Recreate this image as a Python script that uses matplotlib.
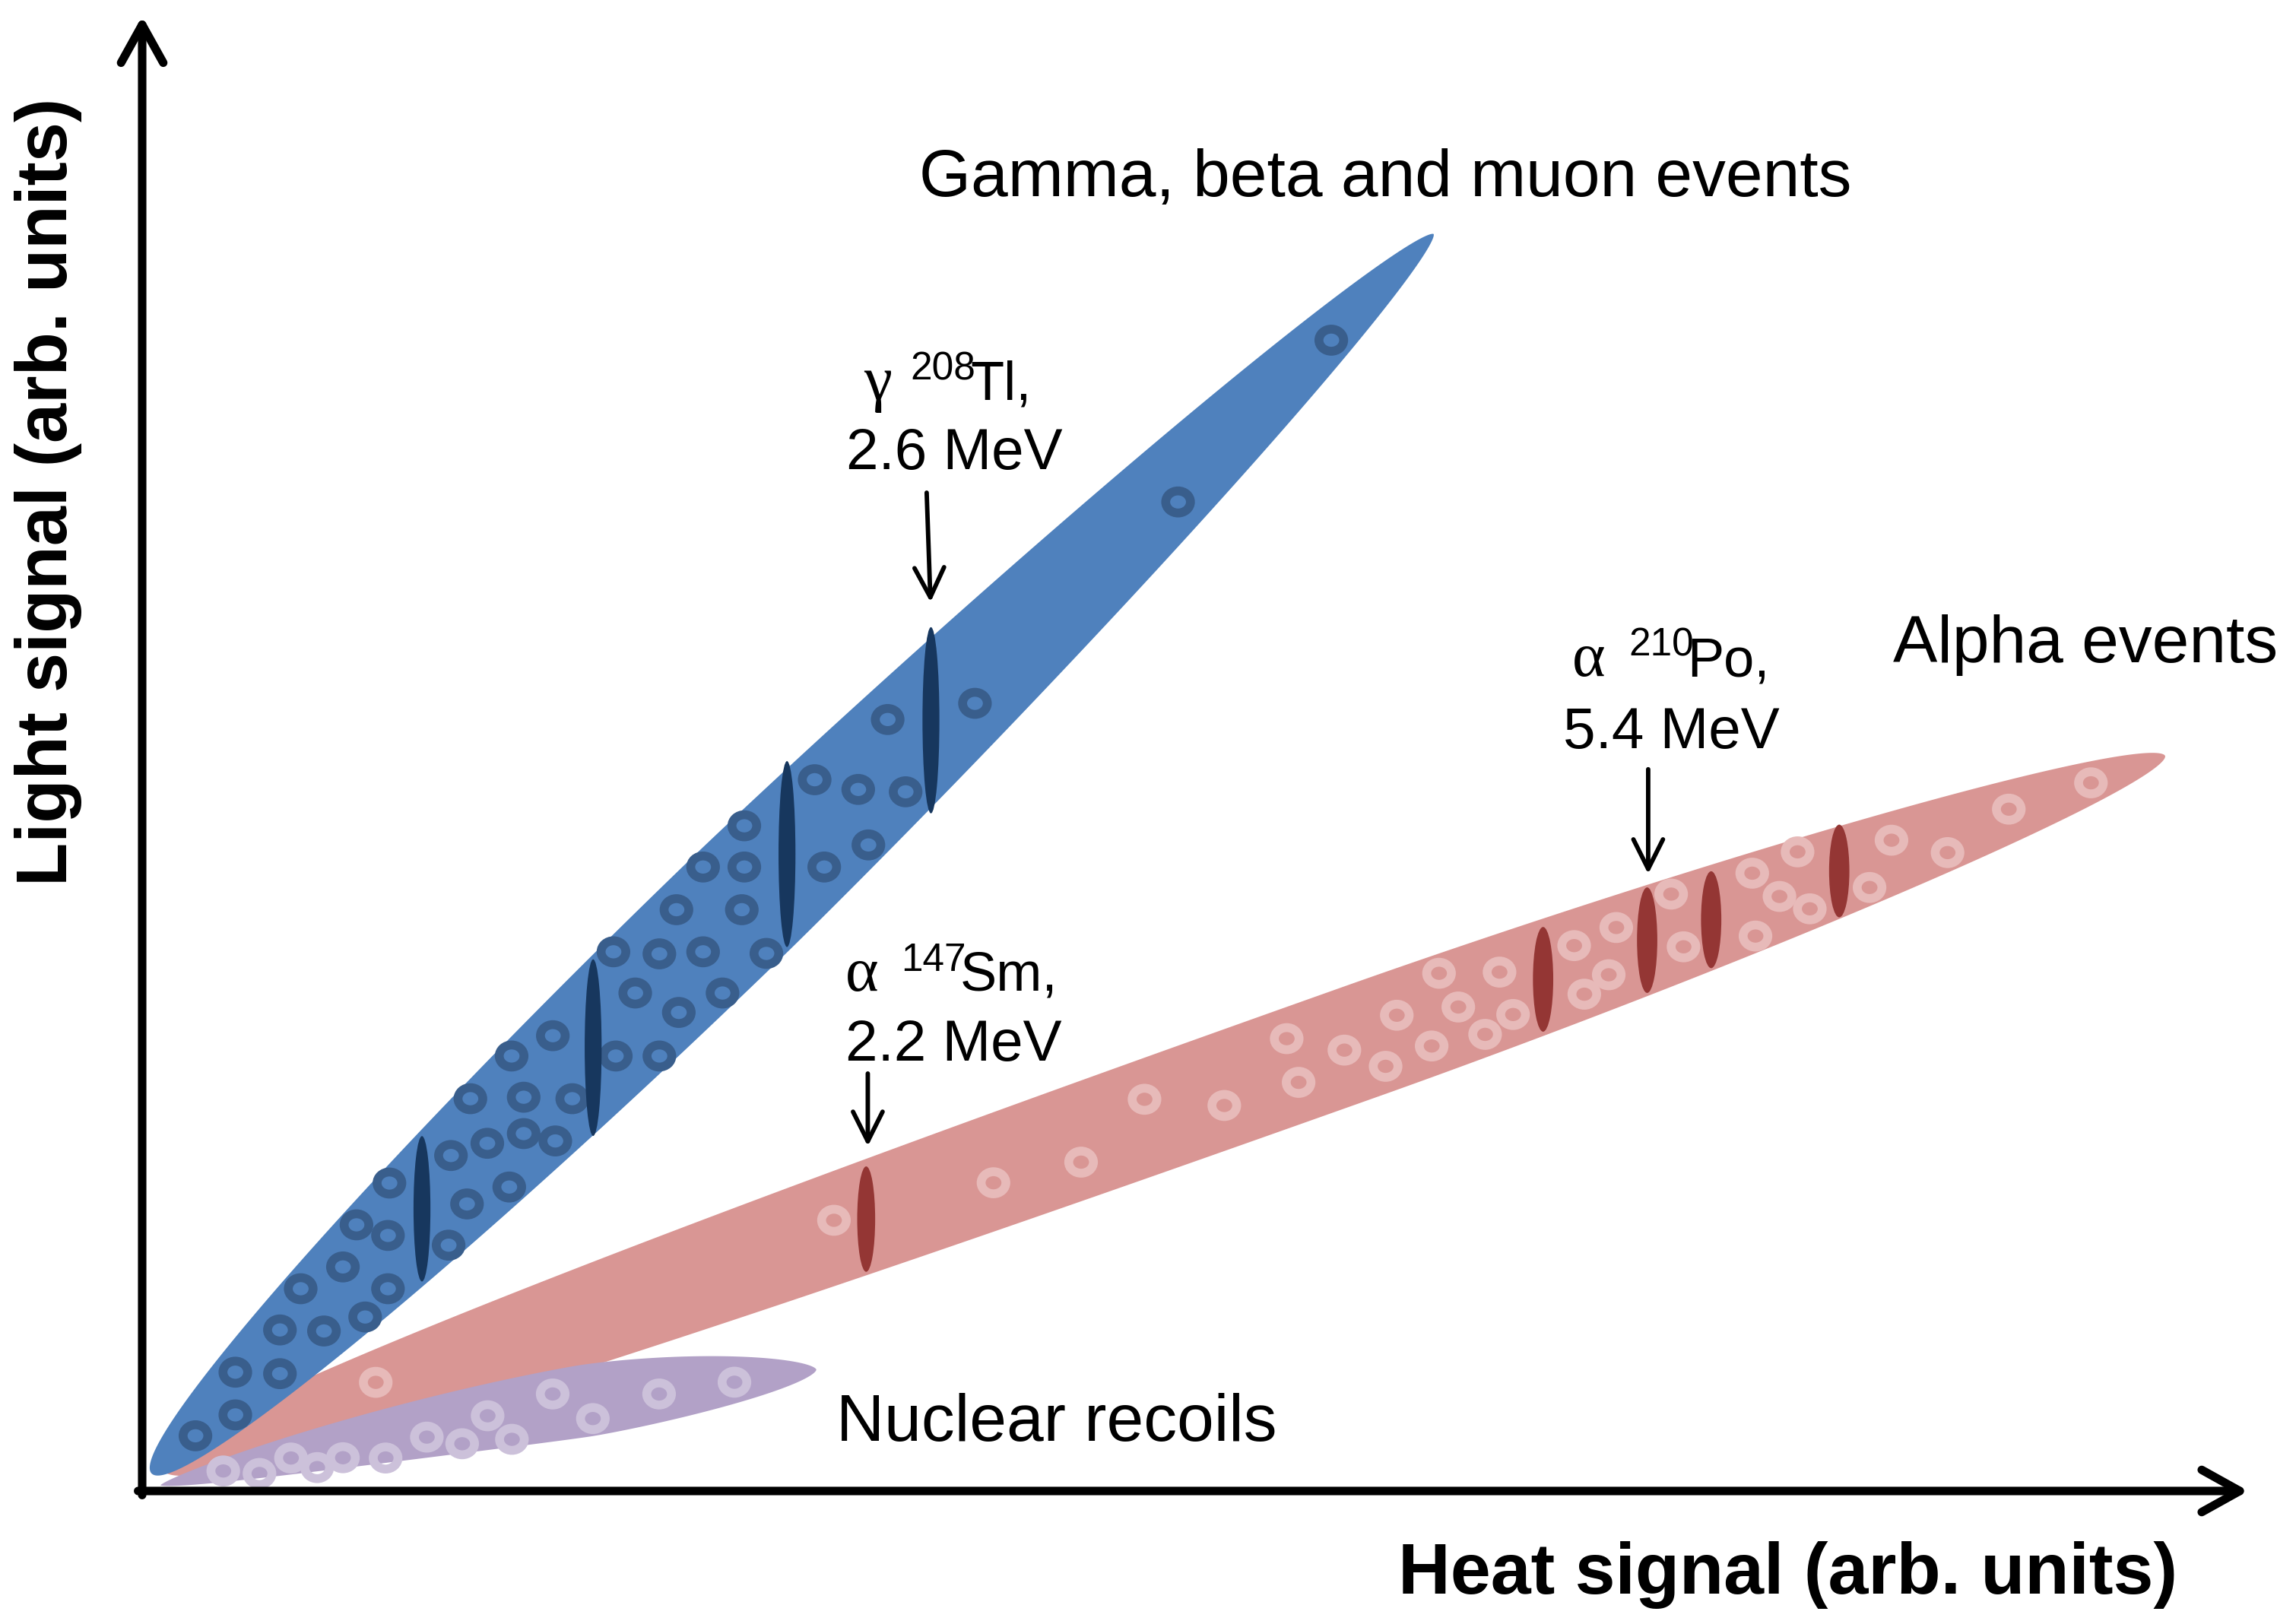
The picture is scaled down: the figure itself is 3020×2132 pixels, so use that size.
import numpy as np
import matplotlib
matplotlib.use('Agg')
import matplotlib.pyplot as plt
from matplotlib.patches import Polygon, Ellipse

plt.rcParams['font.family'] = ['Liberation Sans', 'DejaVu Sans']

# --- schematic data, heat (x) vs light (y) in arbitrary units ---

# band ends (lower-left, upper-right)
gamma_ends = [(0.64, 1.19), (87.74, 85.39)]
alpha_ends = [(1.34, 1.59), (137.44, 49.94)]
recoil_ends = [(1.25, 0.39), (45.80, 8.25)]

# individual events
gamma_x = [45.69, 48.65, 40.91, 49.34, 38.11, 40.91, 46.34, 36.30, 40.74, 32.02,
           35.14, 38.11, 42.41, 33.50, 36.46, 39.43, 27.90, 25.10, 32.18, 35.14,
           22.30, 25.92, 29.22, 23.45, 25.92, 28.07, 20.98, 16.80, 24.94, 22.07,
           14.56, 16.70, 20.82, 13.64, 10.77, 16.70, 15.15, 9.36, 12.35, 6.33,
           9.36, 6.33, 3.62, 80.79, 70.38, 56.58, 50.65, 51.87]
gamma_y = [48.32, 47.66, 45.19, 43.89, 42.39, 42.39, 42.39, 39.49, 39.49, 36.63,
           36.49, 36.63, 36.52, 33.83, 32.51, 33.83, 30.93, 29.55, 29.55, 29.55,
           26.65, 26.75, 26.65, 23.62, 24.28, 23.78, 22.79, 20.92, 20.65, 19.50,
           18.08, 17.36, 16.70, 15.22, 13.74, 13.74, 11.82, 10.94, 10.87, 8.07,
           7.97, 5.17, 3.75, 78.18, 67.19, 53.51, 52.41, 47.50]

alpha_x = [15.87, 47.00, 57.84, 63.79, 68.10, 73.52, 77.76, 78.57, 81.68, 84.48,
           87.61, 88.11, 85.24, 89.42, 91.24, 92.22, 93.14, 97.29, 97.98, 99.64,
           100.15, 103.88, 104.72, 109.39, 109.61, 111.24, 112.47, 113.30, 117.36,
           118.85, 122.66, 126.82, 132.40]
alpha_y = [7.38, 18.39, 20.94, 22.34, 26.61, 26.19, 30.73, 27.76, 29.95, 28.85,
           30.23, 35.17, 32.32, 32.88, 31.02, 35.25, 32.37, 37.05, 33.75, 35.07,
           38.28, 40.55, 36.97, 41.97, 37.70, 40.39, 43.42, 39.55, 41.00,
           44.21, 43.37, 46.32, 48.11]

recoil_x = [5.51, 7.97, 10.11, 11.89, 13.64, 16.54, 19.34, 21.74, 23.47, 25.12,
            27.89, 30.62, 35.12, 40.24]
recoil_y = [1.36, 1.19, 2.24, 1.59, 2.26, 2.24, 3.66, 3.21, 5.11, 3.51,
            6.59, 4.92, 6.59, 7.39]

# calibration peaks (x, y, height)
gamma_peaks = [(19.01, 19.17, 9.88), (30.64, 30.12, 12.0),
               (43.81, 43.27, 12.63), (53.59, 52.36, 12.65)]
alpha_peaks = [(49.19, 18.47, 7.16), (95.18, 34.76, 7.11), (102.25, 37.42, 7.17),
               (106.60, 38.81, 6.58), (115.30, 42.12, 6.30)]

# peak labels: greek letter, mass number, element, energy
peak_greek = ['\u03b3', '\u03b1', '\u03b1']
peak_mass = ['208', '147', '210']
peak_element = ['Tl,', 'Sm,', 'Po,']
peak_energy = ['2.6 MeV', '2.2 MeV', '5.4 MeV']

# --- helpers ---

def band_outline(ends, half_width, peak, q_left, q_right, bow=0.0, n=700):
    (x0, y0), (x1, y1) = ends
    d = np.array([x1 - x0, y1 - y0])
    length = np.hypot(d[0], d[1])
    d = d / length
    nrm = np.array([-d[1], d[0]])
    t = 0.5 - 0.5 * np.cos(np.linspace(0, np.pi, n))
    s = np.where(t < peak, (t - peak) / peak, (t - peak) / (1 - peak))
    q = np.where(t < peak, q_left, q_right)
    f = np.clip(1 - np.abs(s) ** q, 0, None) ** (1 / q)
    cx = x0 + t * length * d[0] + bow * 4 * t * (1 - t) * nrm[0]
    cy = y0 + t * length * d[1] + bow * 4 * t * (1 - t) * nrm[1]
    h = half_width * f
    upper = np.column_stack([cx + h * nrm[0], cy + h * nrm[1]])
    lower = np.column_stack([cx - h * nrm[0], cy - h * nrm[1]])
    return np.vstack([upper, lower[::-1]])


def rings(ax, xs, ys, color, z):
    for x, y in zip(xs, ys):
        ax.add_patch(Ellipse((x, y), 1.68, 1.50, fill=False, edgecolor=color,
                             lw=8.4, zorder=z))


def arrow(ax, start, end, lw, hl, hw):
    ax.annotate('', xy=end, xytext=start,
                arrowprops=dict(arrowstyle=f'->,head_length={hl},head_width={hw}',
                                lw=lw, color='black', shrinkA=0, shrinkB=0,
                                mutation_scale=1, capstyle='round',
                                joinstyle='round'),
                zorder=10)


# --- figure ---
fig = plt.figure(figsize=(30.2, 21.32), dpi=100)
ax = fig.add_axes([0, 0, 1, 1])
ax.set_xlim(-9.659, 146.333)
ax.set_ylim(-8.833, 101.291)
ax.axis('off')

# alpha band
ax.add_patch(Polygon(band_outline(alpha_ends, 3.91, 0.6, 2.5, 1.8),
                     closed=True, facecolor='#D99694', edgecolor='none', zorder=1))
rings(ax, alpha_x, alpha_y, '#E7BAB9', 1.5)
for x, y, h in alpha_peaks:
    w = 1.22 if x < 60 else 1.38
    ax.add_patch(Ellipse((x, y), w, h, facecolor='#943634', edgecolor='none', zorder=1.6))

# nuclear recoil band
ax.add_patch(Polygon(band_outline(recoil_ends, 2.45, 0.65, 1.4, 1.6, bow=0.7),
                     closed=True, facecolor='#B2A1C7', edgecolor='none', zorder=2))
rings(ax, recoil_x, recoil_y, '#CCC1DA', 2.5)

# gamma/beta band
ax.add_patch(Polygon(band_outline(gamma_ends, 4.56, 0.45, 2.0, 1.6),
                     closed=True, facecolor='#4F81BD', edgecolor='none', zorder=3))
rings(ax, gamma_x, gamma_y, '#395E8C', 3.5)
for x, y, h in gamma_peaks:
    ax.add_patch(Ellipse((x, y), 1.15, h, facecolor='#17375E', edgecolor='none', zorder=3.6))

# axes arrows
arrow(ax, (-0.28, 0), (143.1, 0), 8, 36, 20)
arrow(ax, (0, -0.28), (0, 100.2), 8, 36, 20)

# peak arrows
arrow(ax, (53.30, 67.82), (53.56, 60.38), 4.2, 28, 14)
arrow(ax, (49.30, 28.36), (49.30, 23.42), 4.2, 28, 14)
arrow(ax, (102.32, 49.03), (102.32, 41.92), 4.2, 28, 14)

# axis labels
ax.text(111.8, -6.97, 'Heat signal (arb. units)', fontsize=68.5, fontweight='bold',
        ha='center', va='baseline')
ax.text(-5.11, 67.9, 'Light signal (arb. units)', fontsize=67.5, fontweight='bold',
        rotation=90, rotation_mode='anchor', ha='center', va='baseline')

# population labels
ax.text(84.45, 87.99, 'Gamma, beta and muon events', fontsize=63,
        ha='center', va='baseline')
ax.text(132.04, 56.30, 'Alpha events', fontsize=63, ha='center', va='baseline')
ax.text(62.14, 3.41, 'Nuclear recoils', fontsize=63, ha='center', va='baseline')

# peak labels (greek centre, mass-number left, element left, first baseline, energy centre/baseline)
greek_x = [49.97, 48.88, 98.26]
mass_x = [52.17, 51.55, 100.98]
elem_x = [56.25, 55.58, 104.96]
line1_y = [74.15, 33.99, 55.37]
energy_x = [55.17, 55.11, 103.87]
energy_y = [69.42, 29.24, 50.49]
for i in range(3):
    ax.text(greek_x[i], line1_y[i], peak_greek[i], fontsize=60,
            family=['Liberation Serif', 'DejaVu Serif'], ha='center', va='baseline')
    ax.text(mass_x[i], line1_y[i] + 1.35, peak_mass[i], fontsize=37,
            ha='left', va='baseline')
    ax.text(elem_x[i], line1_y[i], peak_element[i], fontsize=52,
            ha='left', va='baseline')
    ax.text(energy_x[i], energy_y[i], peak_energy[i], fontsize=55,
            ha='center', va='baseline')

fig.savefig('out.png', dpi=100)
